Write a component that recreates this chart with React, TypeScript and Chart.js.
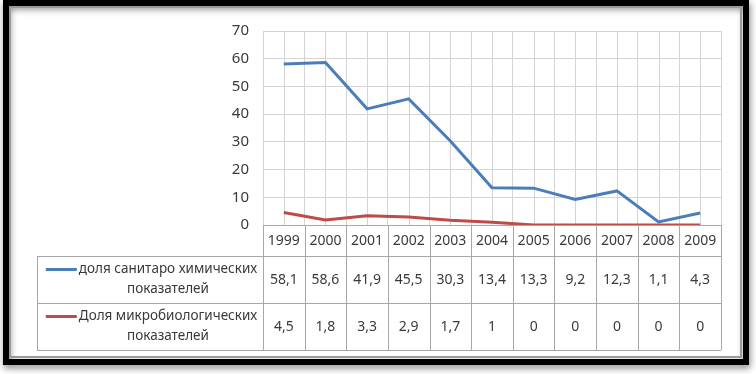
import React, { useEffect, useRef } from "react";
import { Chart, registerables } from "chart.js";

Chart.register(...registerables);

const years = ["1999", "2000", "2001", "2002", "2003", "2004", "2005", "2006", "2007", "2008", "2009"];
const chemShare = [58.1, 58.6, 41.9, 45.5, 30.3, 13.4, 13.3, 9.2, 12.3, 1.1, 4.3];
const microShare = [4.5, 1.8, 3.3, 2.9, 1.7, 1, 0, 0, 0, 0, 0];
const chemLabel = ["доля санитаро химических", "показателей"];
const microLabel = ["Доля микробиологических", "показателей"];
const yMin = 0;
const yMax = 70;
const yStep = 10;

const BLUE = "#4a7ebb";
const RED = "#be4b48";
const FONT_FAMILY = '"Noto Sans", sans-serif';
const TEXT_COLOR = "#3a3a3a";
const TABLE_LINE = "#a8a8a8";
const GRID_LINE = "#d4d4d4";

const fmt = (v: number) => String(v).replace(".", ",");

const framePlugin = {
  id: "frame",
  beforeDraw(chart: any) {
    const ctx = chart.ctx;
    ctx.save();
    ctx.fillStyle = "#ffffff";
    ctx.fillRect(0, 0, chart.width, chart.height);
    ctx.restore();
  },
  afterDraw(chart: any) {
    const ctx = chart.ctx;
    ctx.save();
    ctx.shadowColor = "rgba(0,0,0,0.5)";
    ctx.shadowBlur = 7;
    ctx.shadowOffsetX = 1;
    ctx.shadowOffsetY = 3;
    ctx.strokeStyle = "#000000";
    ctx.lineWidth = 6;
    ctx.strokeRect(6, 3, 740, 359);
    ctx.restore();
    ctx.save();
    ctx.strokeStyle = "#9a9a9a";
    ctx.lineWidth = 2;
    ctx.strokeRect(10, 7, 731, 350);
    ctx.restore();
  },
};

const centerGridPlugin = {
  id: "centerGrid",
  beforeDatasetsDraw(chart: any) {
    const x = chart.scales.x;
    const area = chart.chartArea;
    const ctx = chart.ctx;
    ctx.save();
    ctx.strokeStyle = GRID_LINE;
    ctx.lineWidth = 1;
    for (let i = 0; i < years.length; i++) {
      const px = Math.round(x.getPixelForValue(i)) + 0.5;
      ctx.beginPath();
      ctx.moveTo(px, area.top);
      ctx.lineTo(px, area.bottom);
      ctx.stroke();
    }
    ctx.restore();
  },
};

const tablePlugin = {
  id: "dataTable",
  afterDraw(chart: any) {
    const x = chart.scales.x;
    const area = chart.chartArea;
    const ctx = chart.ctx;
    const half = (x.getPixelForValue(1) - x.getPixelForValue(0)) / 2;
    const headerTop = area.bottom;
    const headerBottom = headerTop + 31;
    const row1Bottom = headerBottom + 47;
    const row2Bottom = row1Bottom + 47;
    const legendLeft = 37;
    const h = (v: number) => Math.round(v) + 0.5;

    ctx.save();
    ctx.strokeStyle = TABLE_LINE;
    ctx.lineWidth = 1;
    [headerBottom, row1Bottom, row2Bottom].forEach((yy) => {
      ctx.beginPath();
      ctx.moveTo(legendLeft, h(yy));
      ctx.lineTo(area.right, h(yy));
      ctx.stroke();
    });
    for (let i = 0; i <= years.length; i++) {
      const bx = i === years.length ? x.getPixelForValue(i - 1) + half : x.getPixelForValue(i) - half;
      ctx.beginPath();
      ctx.moveTo(h(bx), headerTop);
      ctx.lineTo(h(bx), row2Bottom);
      ctx.stroke();
    }
    ctx.beginPath();
    ctx.moveTo(h(legendLeft), headerBottom);
    ctx.lineTo(h(legendLeft), row2Bottom);
    ctx.stroke();

    ctx.fillStyle = TEXT_COLOR;
    ctx.font = `14px ${FONT_FAMILY}`;
    ctx.textAlign = "center";
    ctx.textBaseline = "middle";
    years.forEach((y, i) => {
      ctx.fillText(y, x.getPixelForValue(i), (headerTop + headerBottom) / 2 + 1);
    });
    const rows = [
      { data: chemShare, label: chemLabel, color: BLUE, top: headerBottom, bottom: row1Bottom },
      { data: microShare, label: microLabel, color: RED, top: row1Bottom, bottom: row2Bottom },
    ];
    rows.forEach((r) => {
      const mid = (r.top + r.bottom) / 2;
      ctx.font = `14px ${FONT_FAMILY}`;
      r.data.forEach((v, i) => {
        ctx.fillText(fmt(v), x.getPixelForValue(i), mid + 1);
      });
      ctx.font = `13.5px ${FONT_FAMILY}`;
      const keyW = 36;
      const textW = Math.max(...r.label.map((s) => ctx.measureText(s).width));
      const cellCenter = (legendLeft + area.left) / 2;
      const start = cellCenter - (keyW + textW) / 2;
      const textCenter = start + keyW + textW / 2;
      const l1 = mid - 10;
      const l2 = mid + 10;
      ctx.fillText(r.label[0], textCenter, l1);
      ctx.fillText(r.label[1], textCenter, l2);
      ctx.strokeStyle = r.color;
      ctx.lineWidth = 3;
      ctx.beginPath();
      ctx.moveTo(start + 3, l1);
      ctx.lineTo(start + keyW - 2, l1);
      ctx.stroke();
    });
    ctx.restore();
  },
};

export default function App() {
  const ref = useRef<HTMLCanvasElement | null>(null);
  useEffect(() => {
    if (!ref.current) return;
    const chart = new Chart(ref.current, {
      type: "line",
      data: {
        labels: years,
        datasets: [
          {
            label: chemLabel.join(" "),
            data: chemShare,
            borderColor: BLUE,
            backgroundColor: BLUE,
            borderWidth: 3,
            pointRadius: 0,
            tension: 0,
          },
          {
            label: microLabel.join(" "),
            data: microShare,
            borderColor: RED,
            backgroundColor: RED,
            borderWidth: 3,
            pointRadius: 0,
            tension: 0,
          },
        ],
      },
      options: {
        responsive: false,
        animation: false,
        layout: { padding: { left: 215, top: 31, right: 35, bottom: 149 } },
        plugins: {
          legend: { display: false },
          tooltip: { enabled: false },
          title: { display: false },
        },
        scales: {
          x: {
            type: "category",
            offset: true,
            grid: { offset: true, color: GRID_LINE, drawTicks: false },
            border: { color: TABLE_LINE },
            ticks: { display: false },
          },
          y: {
            min: yMin,
            max: yMax,
            ticks: {
              stepSize: yStep,
              padding: 14,
              color: TEXT_COLOR,
              font: { family: FONT_FAMILY, size: 15 },
            },
            grid: { color: GRID_LINE, drawTicks: false },
            border: { color: GRID_LINE },
            afterFit: (scale: any) => {
              scale.width = 48;
            },
          },
        },
      },
      plugins: [framePlugin, centerGridPlugin, tablePlugin],
    });
    return () => chart.destroy();
  }, []);
  return (
    <div style={{ position: "fixed", left: 0, top: 0, width: 756, height: 374 }}>
      <canvas ref={ref} width={756} height={374} style={{ display: "block", width: 756, height: 374 }} />
    </div>
  );
}
